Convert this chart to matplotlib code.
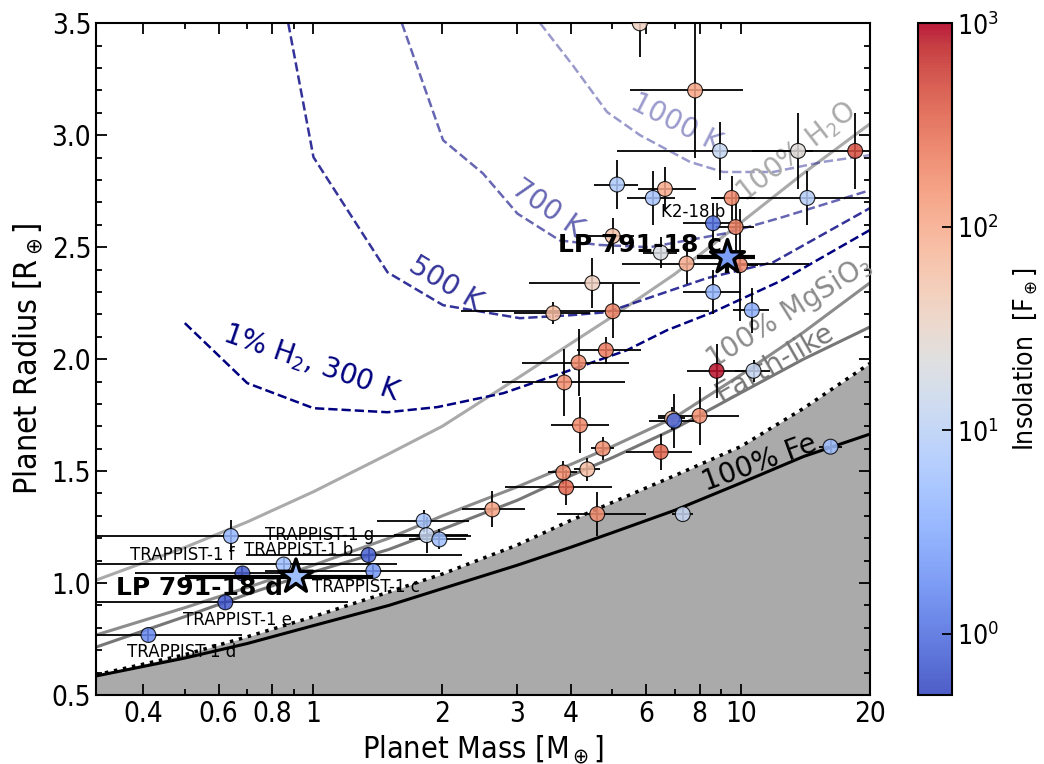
import numpy as np
import matplotlib
matplotlib.use("Agg")
import matplotlib.pyplot as plt
from matplotlib.colors import LogNorm
from matplotlib.ticker import FixedLocator, FixedFormatter, NullFormatter

# ---- composition curves (mass in M_earth, radius in R_earth) ----
comp_mass = [0.31, 0.5, 0.7, 1.0, 1.5, 2.0, 3.0, 4.0, 5.0, 7.0, 10.0, 14.0, 20.0]
fe_radius = [0.585, 0.665, 0.73, 0.81, 0.90, 0.975, 1.08, 1.16, 1.225, 1.325, 1.447, 1.565, 1.665]
strip_radius = [0.59, 0.68, 0.76, 0.85, 0.96, 1.04, 1.17, 1.28, 1.36, 1.48, 1.61, 1.78, 1.98]
earth_radius = [0.714, 0.85, 0.95, 1.05, 1.15, 1.24, 1.37, 1.48, 1.56, 1.69, 1.85, 2.0, 2.143]
mgsio3_radius = [0.768, 0.89, 0.98, 1.08, 1.20, 1.30, 1.43, 1.53, 1.61, 1.74, 1.93, 2.12, 2.34]
h2o_radius = [1.013, 1.159, 1.273, 1.408, 1.577, 1.70, 1.915, 2.07, 2.19, 2.38, 2.61, 2.83, 3.05]

# ---- 1% H2 envelope curves at several temperatures ----
h2_300_mass = [0.5, 0.7, 1.0, 1.49, 1.95, 2.78, 3.92, 5.41, 6.71, 8.6, 12.5, 20.0]
h2_300_radius = [2.161, 1.893, 1.781, 1.763, 1.786, 1.848, 1.946, 2.040, 2.129, 2.210, 2.353, 2.576]
h2_500_mass = [0.873, 1.0, 1.49, 2.01, 3.04, 3.98, 4.86, 8.33, 11.9, 20.0]
h2_500_radius = [3.5, 2.902, 2.388, 2.241, 2.183, 2.196, 2.21, 2.362, 2.433, 2.674]
h2_700_mass = [1.61, 2.01, 2.49, 3.0, 3.77, 4.68, 6.12, 9.27, 12.5, 20.0]
h2_700_radius = [3.5, 2.978, 2.83, 2.65, 2.53, 2.51, 2.50, 2.563, 2.634, 2.754]
h2_1000_mass = [3.39, 4.05, 4.86, 5.81, 7.6, 9.08, 11.9, 15.55, 20.0]
h2_1000_radius = [3.5, 3.31, 3.104, 3.0, 2.881, 2.836, 2.836, 2.881, 2.911]

# ---- known planets ----
mass = [5.8, 7.81, 8.93, 13.6, 18.5, 5.13, 6.64, 6.22, 9.51, 14.3,
        8.6, 9.72, 9.95, 7.46, 6.49, 5.01, 8.61, 10.6, 4.49, 3.64,
        5.01, 4.83, 4.17, 3.86, 4.20, 4.75, 3.84, 4.37, 3.90, 2.62,
        4.61, 6.49, 6.9, 6.98, 8.0, 8.77, 10.7, 7.31, 16.2, 0.641,
        0.851, 0.682, 1.345, 1.38, 0.622, 0.411, 1.81, 1.84, 1.97]
mass_lo = [0.3, 2.3, 3.8, 3.0, 1.9, 0.6, 0.9, 0.8, 1.0, 5.7,
           1.3, 1.0, 1.0, 2.2, 0.6, 0.6, 1.3, 1.0, 1.3, 0.7,
           2.8, 0.7, 1.1, 1.1, 0.6, 0.3, 0.3, 0.3, 1.1, 0.4,
           0.9, 1.1, 0.5, 0.9, 1.6, 1.3, 1.0, 0.4, 1.0, 0.35,
           0.55, 0.3, 0.65, 0.61, 0.32, 0.11, 0.4, 0.3, 0.3]
mass_hi = [0.3, 2.3, 5.8, 3.0, 3.0, 0.6, 1.2, 0.8, 1.3, 7.0,
           1.3, 1.0, 1.0, 7.0, 0.6, 0.6, 1.4, 1.0, 1.3, 0.8,
           3.4, 1.0, 1.3, 1.5, 0.7, 0.3, 0.3, 0.3, 1.1, 0.5,
           1.4, 1.2, 0.5, 0.9, 1.9, 1.4, 1.0, 0.4, 1.0, 1.7,
           0.72, 0.3, 0.88, 0.6, 0.58, 0.27, 0.5, 0.46, 0.3]
radius = [3.5, 3.20, 2.93, 2.93, 2.93, 2.78, 2.76, 2.72, 2.72, 2.72,
          2.607, 2.59, 2.42, 2.427, 2.476, 2.55, 2.30, 2.219, 2.34, 2.205,
          2.214, 2.04, 1.985, 1.896, 1.705, 1.601, 1.494, 1.508, 1.427, 1.329,
          1.308, 1.586, 1.735, 1.725, 1.747, 1.948, 1.948, 1.308, 1.609, 1.21,
          1.083, 1.043, 1.125, 1.054, 0.914, 0.768, 1.278, 1.214, 1.195]
radius_err = [0.15, 0.30, 0.13, 0.17, 0.17, 0.11, 0.10, 0.12, 0.10, 0.12,
              0.09, 0.15, 0.25, 0.09, 0.07, 0.08, 0.10, 0.10, 0.11, 0.05,
              0.12, 0.06, 0.15, 0.15, 0.125, 0.05, 0.05, 0.05, 0.08, 0.08,
              0.10, 0.08, 0.05, 0.12, 0.13, 0.12, 0.05, 0.03, 0.03, 0.07,
              0.03, 0.03, 0.03, 0.03, 0.03, 0.03, 0.05, 0.08, 0.045]
insolation = [40, 120, 12, 25, 500, 7, 110, 6, 200, 8,
              1.0, 220, 200, 100, 20, 60, 4, 3.5, 40, 70,
              220, 250, 200, 180, 200, 180, 180, 70, 350, 120,
              180, 350, 60, 0.8, 180, 900, 12, 12, 5, 4,
              5, 0.7, 0.7, 2, 0.6, 1.5, 6, 12, 5]

# LP 791-18 planets
lp_names = ["LP 791-18 c", "LP 791-18 d"]
lp_mass = [9.3, 0.91]
lp_mass_lo = [1.4, 0.41]
lp_mass_hi = [1.5, 0.47]
lp_radius = [2.455, 1.028]
lp_radius_err = [0.07, 0.04]
lp_insolation = [2.3, 4.9]

# TRAPPIST-1 labels (left edge and vertical centre in data coordinates)
trap_labels = ["TRAPPIST-1 g", "TRAPPIST-1 b", "TRAPPIST-1 f", "TRAPPIST-1 c",
               "TRAPPIST-1 e", "TRAPPIST-1 d"]
trap_x = [0.771, 0.686, 0.373, 0.993, 0.496, 0.367]
trap_y = [1.214, 1.147, 1.125, 0.982, 0.835, 0.692]

plt.rcParams["font.family"] = ["DejaVu Sans"]
plt.rcParams["font.stretch"] = "condensed"
plt.rcParams["mathtext.fontset"] = "dejavusans"

fig = plt.figure(figsize=(10.44, 7.64), dpi=100)
ax = fig.add_axes([0.092, 0.0903, 0.741, 0.8792])
cax = fig.add_axes([0.8795, 0.0903, 0.0326, 0.8792])

cmap = plt.get_cmap("coolwarm")
norm = LogNorm(vmin=0.5, vmax=1000)

# rocky / water composition curves
ax.fill_between(comp_mass, 0, strip_radius, color="#aaaaaa", zorder=1, lw=0)
ax.plot(comp_mass, strip_radius, color="black", ls=":", lw=2.5, zorder=2)
ax.plot(comp_mass, fe_radius, color="black", lw=2.2, zorder=2)
ax.plot(comp_mass, earth_radius, color="#777777", lw=2.2, zorder=2)
ax.plot(comp_mass, mgsio3_radius, color="#8c8c8c", lw=2.2, zorder=2)
ax.plot(comp_mass, h2o_radius, color="#aaaaaa", lw=2.2, zorder=2)

# hydrogen envelope curves
ax.plot(h2_300_mass, h2_300_radius, color="navy", ls="--", lw=1.8, zorder=2)
ax.plot(h2_500_mass, h2_500_radius, color="navy", alpha=0.8, ls="--", lw=1.8, zorder=2)
ax.plot(h2_700_mass, h2_700_radius, color="navy", alpha=0.6, ls="--", lw=1.8, zorder=2)
ax.plot(h2_1000_mass, h2_1000_radius, color="navy", alpha=0.4, ls="--", lw=1.8, zorder=2)

# curve labels
lab_kw = dict(fontsize=20, ha="center", va="center", zorder=3,
              rotation_mode="anchor", fontstretch="normal")
ax.text(0.99, 1.983, "1% H$_2$, 300 K", color="navy", rotation=-19, **lab_kw)
ax.text(2.04, 2.338, "500 K", color="navy", alpha=0.8, rotation=-31, **lab_kw)
ax.text(3.53, 2.673, "700 K", color="navy", alpha=0.6, rotation=-35, **lab_kw)
ax.text(7.07, 3.052, "1000 K", color="navy", alpha=0.4, rotation=-27, **lab_kw)
ax.text(13.5, 2.925, "100% H$_2$O", color="#aaaaaa", rotation=38, **lab_kw)
ax.text(12.9, 2.21, "100% MgSiO$_3$", color="#8c8c8c", rotation=32, **lab_kw)
ax.text(12.0, 1.981, "Earth-like", color="#777777", rotation=30, **lab_kw)
ax.text(11.06, 1.534, "100% Fe", color="black", rotation=20, **lab_kw)

# planets with error bars
ax.errorbar(mass, radius, xerr=[mass_lo, mass_hi], yerr=radius_err, fmt="none",
            ecolor="black", elinewidth=1.3, capsize=0, zorder=4)
ax.scatter(mass, radius, c=insolation, cmap=cmap, norm=norm, s=115,
           edgecolors="black", linewidths=0.8, alpha=0.85, zorder=5)

ax.errorbar(lp_mass, lp_radius, xerr=[lp_mass_lo, lp_mass_hi], yerr=lp_radius_err,
            fmt="none", ecolor="black", elinewidth=3, capsize=0, zorder=6)
ax.scatter(lp_mass, lp_radius, c=lp_insolation, cmap=cmap, norm=norm, s=650,
           marker="*", edgecolors="black", linewidths=2.5, zorder=7)

ax.text(9.03, 2.51, lp_names[0], fontsize=18, fontweight="bold", fontstretch="normal",
        ha="right", va="center", zorder=6.5)
ax.text(0.85, 0.976, lp_names[1], fontsize=18, fontweight="bold", fontstretch="normal",
        ha="right", va="center", zorder=6.5)
ax.text(6.51, 2.658, "K2-18 b", fontsize=12, fontstretch="normal",
        ha="left", va="center", zorder=8)
for lab, tx, ty in zip(trap_labels, trap_x, trap_y):
    ax.text(tx, ty, lab, fontsize=12, fontstretch="normal", ha="left", va="center",
            zorder=8)

# axes
ax.set_xscale("log")
ax.set_xlim(0.31, 20)
ax.set_ylim(0.5, 3.5)
xmaj = [0.4, 0.6, 0.8, 1, 2, 3, 4, 6, 8, 10, 20]
ax.xaxis.set_major_locator(FixedLocator(xmaj))
ax.xaxis.set_major_formatter(FixedFormatter(["0.4", "0.6", "0.8", "1", "2", "3", "4",
                                              "6", "8", "10", "20"]))
ax.xaxis.set_minor_locator(FixedLocator([0.5, 0.7, 0.9, 5, 7, 9]))
ax.xaxis.set_minor_formatter(NullFormatter())
ax.yaxis.set_major_locator(FixedLocator(np.arange(0.5, 3.51, 0.5)))
ax.yaxis.set_minor_locator(FixedLocator(np.arange(0.5, 3.51, 0.1)))
ax.tick_params(which="both", direction="in", top=True, right=True, width=1.3,
               labelsize=20)
ax.tick_params(which="major", length=8)
ax.tick_params(which="minor", length=4)
for sp in ax.spines.values():
    sp.set_linewidth(1.5)
ax.set_xlabel("Planet Mass [M$_\\oplus$]", fontsize=22)
ax.set_ylabel("Planet Radius [R$_\\oplus$]", fontsize=23, labelpad=5)

sm = matplotlib.cm.ScalarMappable(norm=norm, cmap=cmap)
cb = fig.colorbar(sm, cax=cax, alpha=0.9)
cb.ax.tick_params(direction="in", length=7, width=1.3, labelsize=19)
cb.ax.minorticks_off()
cb.set_label("Insolation  [F$_\\oplus$]", fontsize=19, labelpad=9)
cb.outline.set_linewidth(1.5)

fig.savefig("out.png", dpi=100)
